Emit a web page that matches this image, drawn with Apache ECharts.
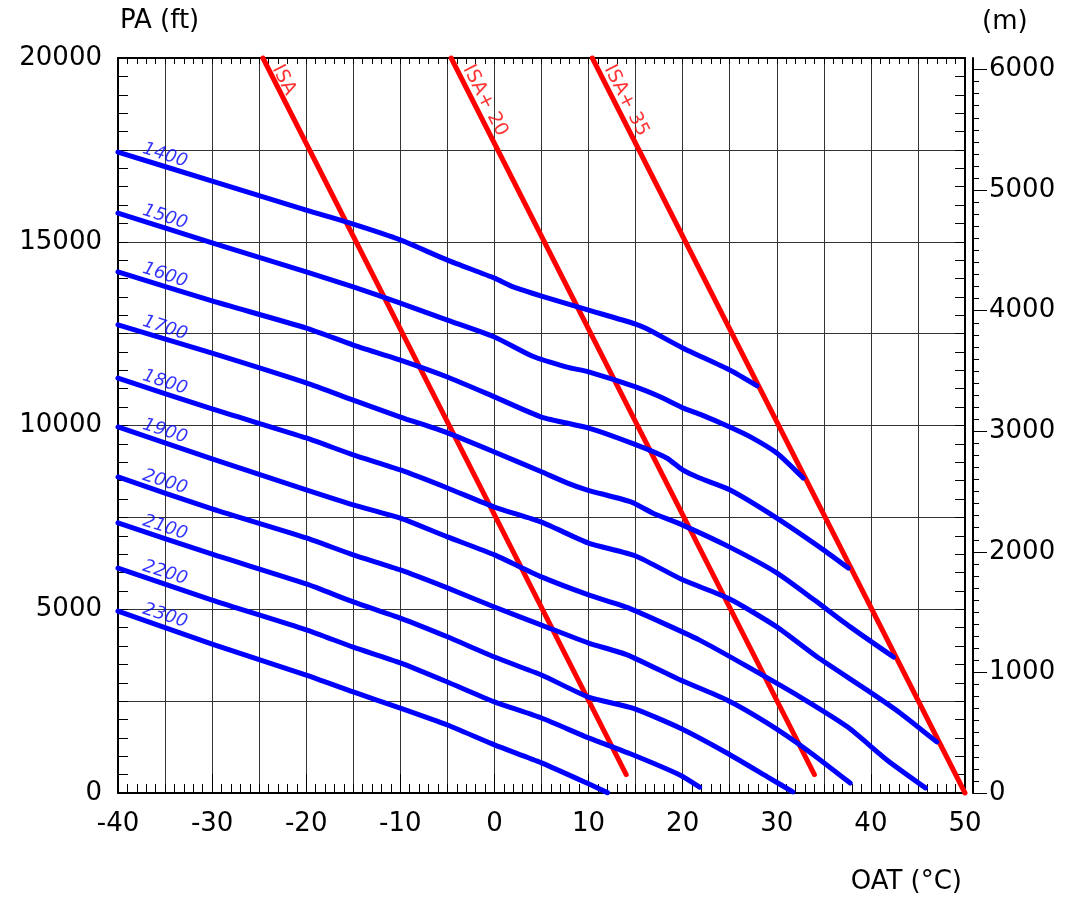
<!DOCTYPE html>
<html>
<head>
<meta charset="utf-8">
<title>PA / OAT</title>
<script src="https://cdn.jsdelivr.net/npm/echarts@6.0.0/dist/echarts.min.js"></script>
<style>
  html, body { margin: 0; padding: 0; background: #fff; }
  #chart { width: 1070px; height: 899px; }
</style>
</head>
<body>
<div id="chart"></div>
<script>
// axis ranges
const oatRange = [-40, 50];      // degC
const paRange = [0, 20000];      // ft
const mRange = [0, 6096];        // m (20000 ft)

// red ISA lines, [OAT, PA]
const isa = [[-24.6, 20000], [14.0, 500]];
const isa20 = [[-4.6, 20000], [34.0, 500]];
const isa35 = [[10.4, 20000], [50.0, 0]];
const isaNames = ['ISA', 'ISA+ 20', 'ISA+ 35'];
const isaLabelPos = [[-22.4, 19400], [-1.0, 18840], [14.0, 18840]];

// blue curves, [OAT, PA]
const pa1400 = [[-40, 17440], [-30, 16650], [-20, 15860], [-15, 15480], [-10, 15050], [-5, 14500], [0, 14010], [2, 13770], [5, 13520], [10, 13140], [15, 12760], [16.2, 12630], [20, 12110], [25, 11510], [27.9, 11080]];
const pa1500 = [[-40, 15780], [-30, 14970], [-20, 14180], [-15, 13770], [-10, 13330], [-5, 12870], [0, 12410], [4, 11890], [7.7, 11590], [10, 11460], [15, 11050], [17.6, 10780], [20, 10480], [22, 10290], [25, 9960], [27.2, 9690], [30, 9250], [32.8, 8570]];
const pa1600 = [[-40, 14180], [-30, 13390], [-20, 12650], [-15, 12190], [-10, 11780], [-5, 11320], [0, 10780], [5, 10230], [10, 9930], [15, 9480], [18.3, 9116], [20, 8790], [21.8, 8570], [25, 8250], [30, 7480], [35, 6610], [37.6, 6120]];
const pa1700 = [[-40, 12740], [-30, 11970], [-20, 11160], [-15, 10690], [-10, 10230], [-5, 9800], [0, 9280], [5, 8740], [7.7, 8440], [9.8, 8250], [14.5, 7920], [16.8, 7620], [20, 7290], [25, 6690], [30, 5990], [34, 5250], [37.8, 4520], [42.4, 3700]];
const pa1800 = [[-40, 11290], [-30, 10450], [-20, 9660], [-15, 9200], [-10, 8790], [-5, 8300], [0, 7780], [5, 7370], [10, 6800], [15, 6450], [20, 5800], [25, 5280], [30, 4520], [34.3, 3700], [39.6, 2800], [43.1, 2180], [47, 1390]];
const pa1900 = [[-40, 9960], [-30, 9090], [-20, 8250], [-15, 7840], [-10, 7480], [-5, 6970], [0, 6480], [5, 5880], [10, 5390], [14.1, 5050], [21.8, 4160], [27.5, 3350], [32.5, 2610], [37.5, 1800], [41.7, 900], [45.8, 140]];
const pa2000 = [[-40, 8600], [-30, 7730], [-20, 6940], [-15, 6480], [-10, 6070], [-5, 5580], [0, 5060], [5, 4570], [10, 4080], [14.1, 3760], [19.7, 3080], [24.7, 2530], [29, 1900], [33.2, 1170], [37.8, 270]];
const pa2100 = [[-40, 7350], [-30, 6500], [-20, 5690], [-15, 5200], [-10, 4760], [-5, 4250], [0, 3700], [5, 3210], [10, 2610], [14.7, 2310], [19.7, 1770], [24.7, 1090], [29, 440], [31.7, 30]];
const pa2200 = [[-40, 6120], [-30, 5250], [-20, 4440], [-15, 3970], [-10, 3540], [-5, 3020], [0, 2480], [5, 2040], [10, 1500], [14.5, 1060], [19.7, 490], [21.8, 160]];
const pa2300 = [[-40, 4950], [-30, 4050], [-20, 3210], [-15, 2750], [-10, 2310], [-5, 1850], [0, 1310], [5, 820], [10, 250], [12, 10]];

const curveNames = ['1400', '1500', '1600', '1700', '1800', '1900', '2000', '2100', '2200', '2300'];
const curves = [pa1400, pa1500, pa1600, pa1700, pa1800, pa1900, pa2000, pa2100, pa2200, pa2300];
const curveLabelAlt = [17350, 15670, 14090, 12650, 11170, 9840, 8460, 7220, 5990, 4820];
const curveLabelOat = -35;

const FONT = 'DejaVu Sans';
const FS = 26;
const BLACK = '#000';
const RED = '#ff0000';
const BLUE = '#0000ff';

const meterMajor = [0, 1000, 2000, 3000, 4000, 5000, 6000];
const meterMinor = [];
for (let m = 0; m <= 6000; m += 100) meterMinor.push(m);

const chart = echarts.init(document.getElementById('chart'), null, { renderer: 'canvas' });

const series = [];
[isa, isa20, isa35].forEach(function (d, i) {
  series.push({
    name: isaNames[i],
    type: 'line',
    data: d,
    symbol: 'none',
    clip: false,
    z: 3,
    lineStyle: { color: RED, width: 5, cap: 'round', join: 'round' }
  });
});
curves.forEach(function (d, i) {
  series.push({
    name: curveNames[i],
    type: 'line',
    data: d,
    symbol: 'none',
    clip: false,
    smooth: 0.2,
    z: 4,
    lineStyle: { color: BLUE, width: 5, cap: 'round', join: 'round' }
  });
});
// curve labels
series.push({
  type: 'scatter',
  symbolSize: 1,
  z: 5,
  silent: true,
  itemStyle: { color: 'transparent' },
  data: curveLabelAlt.map(function (h, i) {
    return { value: [curveLabelOat, h], name: curveNames[i] };
  }),
  label: {
    show: true,
    position: 'inside',
    formatter: '{b}',
    rotate: -18,
    color: BLUE,
    fontFamily: FONT,
    fontStyle: 'italic',
    fontSize: 18,
    align: 'center',
    verticalAlign: 'middle'
  }
});
series.push({
  type: 'scatter',
  symbolSize: 1,
  z: 5,
  silent: true,
  itemStyle: { color: 'transparent' },
  data: isaLabelPos.map(function (p, i) {
    return { value: p, name: isaNames[i] };
  }),
  label: {
    show: true,
    position: 'inside',
    formatter: '{b}',
    rotate: -63,
    color: RED,
    fontFamily: FONT,
    fontSize: 19,
    align: 'center',
    verticalAlign: 'middle'
  }
});

const tickStyle = { color: BLACK, width: 1 };

chart.setOption({
  animation: false,
  backgroundColor: '#fff',
  grid: { left: 118, right: 105, top: 58, bottom: 106 },
  xAxis: [{
    type: 'value', position: 'bottom', min: oatRange[0], max: oatRange[1], interval: 5,
    axisLine: { onZero: false, lineStyle: { color: BLACK, width: 2 } },
    axisTick: { inside: true, length: 9, lineStyle: tickStyle },
    minorTick: { show: true, splitNumber: 5, length: 9, lineStyle: tickStyle },
    splitLine: { show: true, lineStyle: { color: '#333', width: 1 } },
    axisLabel: {
      margin: 18, color: BLACK, fontFamily: FONT, fontSize: FS,
      formatter: function (v) { return v % 10 === 0 ? String(v) : ''; }
    }
  }, {
    type: 'value', position: 'top', min: oatRange[0], max: oatRange[1], interval: 5,
    axisLine: { onZero: false, lineStyle: { color: BLACK, width: 2 } },
    axisTick: { inside: true, length: 6, lineStyle: tickStyle },
    minorTick: { show: true, splitNumber: 5, length: 6, lineStyle: tickStyle },
    splitLine: { show: false },
    axisLabel: { show: false }
  }, {
    type: 'value', position: 'bottom', min: oatRange[0], max: oatRange[1], interval: 10,
    axisLine: { show: false, onZero: false },
    axisTick: { inside: true, length: 19, lineStyle: tickStyle },
    splitLine: { show: false },
    axisLabel: { show: false }
  }],
  yAxis: [{
    type: 'value', position: 'left', min: paRange[0], max: paRange[1], interval: 2500,
    axisLine: { show: true, onZero: false, lineStyle: { color: BLACK, width: 2 } },
    axisTick: { show: true, inside: true, length: 10, lineStyle: tickStyle },
    minorTick: { show: true, splitNumber: 5, length: 10, lineStyle: tickStyle },
    splitLine: { show: true, lineStyle: { color: '#333', width: 1 } },
    axisLabel: {
      margin: 16, color: BLACK, fontFamily: FONT, fontSize: FS,
      formatter: function (v) { return v % 5000 === 0 ? String(v) : ''; }
    }
  }, {
    type: 'value', position: 'right', min: paRange[0], max: paRange[1], interval: 2500,
    axisLine: { show: true, onZero: false, lineStyle: { color: BLACK, width: 2 } },
    axisTick: { show: true, inside: true, length: 10, lineStyle: tickStyle },
    minorTick: { show: true, splitNumber: 5, length: 10, lineStyle: tickStyle },
    splitLine: { show: false },
    axisLabel: { show: false }
  }, {
    type: 'value', position: 'right', offset: 8, min: mRange[0], max: mRange[1], interval: 1000,
    axisLine: { show: true, onZero: false, lineStyle: { color: BLACK, width: 2 } },
    axisTick: { show: true, inside: false, length: 14, customValues: meterMajor, lineStyle: tickStyle },
    splitLine: { show: false },
    axisLabel: {
      margin: 16, color: BLACK, fontFamily: FONT, fontSize: FS,
      customValues: meterMajor,
      formatter: function (v) { return String(v); }
    }
  }, {
    type: 'value', position: 'right', offset: 8, min: mRange[0], max: mRange[1], interval: 100,
    axisLine: { show: false, onZero: false },
    axisTick: { show: true, inside: false, length: 6, customValues: meterMinor, lineStyle: tickStyle },
    splitLine: { show: false },
    axisLabel: { show: false }
  }],
  graphic: [
    { type: 'text', x: 120, y: 21, style: { text: 'PA (ft)', fill: BLACK, font: FS + 'px "DejaVu Sans"', align: 'left', verticalAlign: 'middle' } },
    { type: 'text', x: 982, y: 22, style: { text: '(m)', fill: BLACK, font: FS + 'px "DejaVu Sans"', align: 'left', verticalAlign: 'middle' } },
    { type: 'text', x: 962, y: 882, style: { text: 'OAT (°C)', fill: BLACK, font: FS + 'px "DejaVu Sans"', align: 'right', verticalAlign: 'middle' } }
  ],
  series: series
});
</script>
</body>
</html>
